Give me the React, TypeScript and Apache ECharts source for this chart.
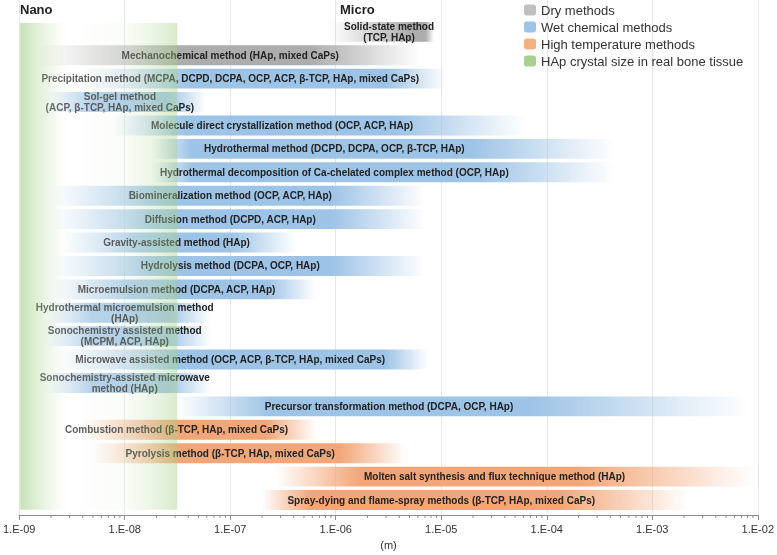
import React, { useEffect, useRef } from 'react';
import * as echarts from 'echarts';

const FONT = '"Liberation Sans", Arial, Helvetica, sans-serif';

// Legend groups
const groupNames = ['Dry methods', 'Wet chemical methods', 'High temperature methods'];
const groupColors = ['#adadad', '#9dc3e6', '#f3a678'];
const legendColors = ['#bfbfbf', '#9dc3e6', '#f4b183', '#a9d18e'];
const boneLabel = 'HAp crystal size in real bone tissue';

// Methods (one row each, top to bottom)
const methodNames = [
  'Solid-state method\n(TCP, HAp)',
  'Mechanochemical method (HAp, mixed CaPs)',
  'Precipitation method (MCPA, DCPD, DCPA, OCP, ACP, β-TCP, HAp, mixed CaPs)',
  'Sol-gel method\n(ACP, β-TCP, HAp, mixed CaPs)',
  'Molecule direct crystallization method (OCP, ACP, HAp)',
  'Hydrothermal method (DCPD, DCPA, OCP, β-TCP, HAp)',
  'Hydrothermal decomposition of Ca-chelated complex method (OCP, HAp)',
  'Biomineralization method (OCP, ACP, HAp)',
  'Diffusion method (DCPD, ACP, HAp)',
  'Gravity-assisted method (HAp)',
  'Hydrolysis method (DCPA, OCP, HAp)',
  'Microemulsion method (DCPA, ACP, HAp)',
  'Hydrothermal microemulsion method\n(HAp)',
  'Sonochemistry assisted method\n(MCPM, ACP, HAp)',
  'Microwave assisted method (OCP, ACP, β-TCP, HAp, mixed CaPs)',
  'Sonochemistry-assisted microwave\nmethod (HAp)',
  'Precursor transformation method (DCPA, OCP, HAp)',
  'Combustion method (β-TCP, HAp, mixed CaPs)',
  'Pyrolysis method (β-TCP, HAp, mixed CaPs)',
  'Molten salt synthesis and flux technique method (HAp)',
  'Spray-dying and flame-spray methods (β-TCP, HAp, mixed CaPs)',
];
const methodGroup = [0, 0, 1, 1, 1, 1, 1, 1, 1, 1, 1, 1, 1, 1, 1, 1, 1, 2, 2, 2, 2];

// Size ranges in metres: where the bar begins to appear, reaches full colour, starts to fade, vanishes
const fadeStart = [9.0e-7, 1.5e-9, 3.9e-9, 1.8e-9, 7.5e-9, 1.8e-8, 1.8e-8, 2e-9, 2e-9, 2.5e-9, 2e-9, 2e-9, 1.8e-9, 1.8e-9, 2.3e-9, 1.8e-9, 3.1e-8, 3.9e-9, 4.9e-9, 2.7e-7, 2e-7];
const fullStart = [5.1e-6, 2.8e-8, 4.3e-8, 4.9e-9, 3.8e-8, 4.3e-8, 4.3e-8, 1.8e-8, 1.8e-8, 1.45e-8, 1.8e-8, 1.16e-8, 4.9e-9, 4.9e-9, 2.8e-8, 4.9e-9, 2.4e-7, 2.5e-8, 3.1e-8, 1.7e-6, 5.8e-7];
const fullEnd = [7.1e-6, 5.8e-7, 3.0e-6, 2.5e-8, 3.7e-6, 1.9e-5, 2.2e-5, 9e-7, 9e-7, 1.0e-7, 9e-7, 2.2e-7, 2.5e-8, 2.5e-8, 2.9e-6, 2.5e-8, 6.9e-5, 2.2e-7, 1.1e-6, 2.0e-4, 1.3e-4];
const fadeEnd = [8.5e-6, 6.3e-6, 1.1e-5, 5.9e-8, 6.2e-5, 4.4e-4, 4.4e-4, 7.1e-6, 7.1e-6, 4.2e-7, 7.1e-6, 6.5e-7, 6.6e-8, 6.6e-8, 7.5e-6, 6.6e-8, 8.2e-3, 6.5e-7, 4.6e-6, 9.2e-3, 2.2e-3];
const labelAt = [3.2e-6, 1e-7, 1e-7, 9e-9, 3.1e-7, 9.7e-7, 9.7e-7, 1e-7, 1e-7, 3.1e-8, 1e-7, 3.1e-8, 1e-8, 1e-8, 1e-7, 1e-8, 3.2e-6, 3.1e-8, 1e-7, 3.2e-5, 1e-5];

// HAp crystal size range in real bone tissue (m) and its vertical span in row units
const boneRange = [1e-9, 3.15e-8];
const boneRowSpan = [-0.38, 20.42];

// Axis
const axisMin = 1e-9;
const axisMax = 1e-2;
const minorMantissas = [2, 3, 4, 5, 6, 7, 8, 9];
const decadeExponents = [-9, -8, -7, -6, -5, -4, -3];

function hexToRgba(hex: string, a: number) {
  const h = hex.replace('#', '');
  const r = parseInt(h.slice(0, 2), 16);
  const g = parseInt(h.slice(2, 4), 16);
  const b = parseInt(h.slice(4, 6), 16);
  return `rgba(${r},${g},${b},${a})`;
}

function makeBarSeries(g: number) {
  const rows = methodNames.map((_, i) => i).filter((i) => methodGroup[i] === g);
  return {
    type: 'custom',
    name: groupNames[g],
    coordinateSystem: 'cartesian2d',
    clip: false,
    z: 2,
    itemStyle: { color: legendColors[g] },
    encode: { x: [1, 2, 3, 4, 5], y: 0 },
    data: rows.map((r) => [r, fadeStart[r], fullStart[r], fullEnd[r], fadeEnd[r], labelAt[r], r]),
    renderItem: (params: any, api: any) => {
      const row = api.value(0);
      const idx = api.value(6);
      const p0 = api.coord([api.value(1), row]);
      const p1 = api.coord([api.value(2), row]);
      const p2 = api.coord([api.value(3), row]);
      const p3 = api.coord([api.value(4), row]);
      const pl = api.coord([api.value(5), row]);
      const ya = api.coord([api.value(1), row - 0.425])[1];
      const yb = api.coord([api.value(1), row + 0.425])[1];
      const top = Math.min(ya, yb);
      const h = Math.abs(yb - ya);
      const w = p3[0] - p0[0];
      const s1 = Math.max(0, Math.min(1, (p1[0] - p0[0]) / w));
      const s2 = Math.max(s1, Math.min(1, (p2[0] - p0[0]) / w));
      const c = groupColors[g];
      return {
        type: 'group',
        children: [
          {
            type: 'rect',
            shape: { x: p0[0], y: top, width: w, height: h },
            style: {
              fill: {
                type: 'linear', x: 0, y: 0, x2: 1, y2: 0,
                colorStops: [
                  { offset: 0, color: hexToRgba(c, 0) },
                  { offset: s1, color: hexToRgba(c, 1) },
                  { offset: s2, color: hexToRgba(c, 1) },
                  { offset: 1, color: hexToRgba(c, 0) },
                ],
              },
            },
          },
          {
            type: 'text',
            x: pl[0],
            y: pl[1],
            style: {
              text: methodNames[idx],
              font: `bold 10px ${FONT}`,
              fill: '#222222',
              align: 'center',
              verticalAlign: 'middle',
              lineHeight: 11,
            },
          },
        ],
      };
    },
  };
}

export default function App() {
  const ref = useRef<HTMLDivElement>(null);
  useEffect(() => {
    if (!ref.current) return;
    const chart = echarts.init(ref.current, undefined, { renderer: 'svg' });
    const option: any = {
      animation: false,
      textStyle: { fontFamily: FONT },
      grid: { left: 17, right: 18, top: 0, bottom: 37 },
      legend: {
        orient: 'vertical',
        left: 524,
        top: 3,
        padding: 0,
        itemWidth: 12,
        itemHeight: 11,
        itemGap: 3,
        icon: 'roundRect',
        selectedMode: false,
        textStyle: { fontSize: 13, color: '#333', fontFamily: FONT, lineHeight: 14 },
        data: [...groupNames, boneLabel],
      },
      xAxis: {
        type: 'log',
        logBase: 10,
        min: axisMin,
        max: axisMax,
        name: '(m)',
        nameLocation: 'middle',
        nameGap: 24,
        nameTextStyle: { fontSize: 11, color: '#333', fontFamily: FONT },
        axisLine: { show: true, onZero: false, lineStyle: { color: '#8c8c8c', width: 1 } },
        axisTick: { show: true, length: 5, lineStyle: { color: '#8c8c8c' } },
        axisLabel: {
          fontSize: 11,
          color: '#333',
          margin: 8,
          fontFamily: FONT,
          formatter: (v: number) => {
            const e = Math.round(Math.log10(v));
            return '1.E' + (e < 0 ? '-' : '+') + String(Math.abs(e)).padStart(2, '0');
          },
        },
        splitLine: { show: true, lineStyle: { color: '#e6e6e6', width: 1 } },
      },
      yAxis: {
        type: 'value',
        inverse: true,
        min: -1.36,
        max: 20.64,
        show: false,
      },
      graphic: [
        { type: 'text', left: 20, top: 3, style: { text: 'Nano', font: `bold 13px ${FONT}`, fill: '#222' } },
        { type: 'text', left: 340, top: 3, style: { text: 'Micro', font: `bold 13px ${FONT}`, fill: '#222' } },
      ],
      series: [
        makeBarSeries(0),
        makeBarSeries(1),
        makeBarSeries(2),
        {
          type: 'custom',
          name: boneLabel,
          coordinateSystem: 'cartesian2d',
          clip: false,
          z: 10,
          itemStyle: { color: legendColors[3] },
          encode: { x: [0, 1], y: [2, 3] },
          data: [[boneRange[0], boneRange[1], boneRowSpan[0], boneRowSpan[1]]],
          renderItem: (params: any, api: any) => {
            const a = api.coord([api.value(0), api.value(2)]);
            const b = api.coord([api.value(1), api.value(3)]);
            return {
              type: 'rect',
              shape: { x: a[0] + 1, y: Math.min(a[1], b[1]), width: b[0] - a[0] - 1, height: Math.abs(b[1] - a[1]) },
              style: {
                fill: {
                  type: 'linear', x: 0, y: 0, x2: 1, y2: 0,
                  colorStops: [
                    { offset: 0, color: 'rgba(150,200,120,0.55)' },
                    { offset: 0.3, color: 'rgba(255,255,255,0.28)' },
                    { offset: 0.65, color: 'rgba(240,248,234,0.26)' },
                    { offset: 1, color: 'rgba(165,208,135,0.42)' },
                  ],
                },
              },
            };
          },
        },
        {
          type: 'custom',
          name: 'minorTicks',
          coordinateSystem: 'cartesian2d',
          clip: false,
          z: 3,
          silent: true,
          encode: { x: 0, y: 1 },
          data: [[axisMin, 20.64]],
          renderItem: (params: any, api: any) => {
            const y0 = params.coordSys.y + params.coordSys.height;
            const children: any[] = [];
            decadeExponents.forEach((e) => {
              minorMantissas.forEach((m) => {
                const v = m * Math.pow(10, e);
                const x = api.coord([v, 0])[0];
                children.push({
                  type: 'line',
                  shape: { x1: x, y1: y0, x2: x, y2: y0 + 3 },
                  style: { stroke: '#8c8c8c', lineWidth: 1 },
                });
              });
            });
            return { type: 'group', children };
          },
        },
      ],
    };
    chart.setOption(option);
    return () => chart.dispose();
  }, []);
  return <div ref={ref} style={{ position: 'fixed', left: 0, top: 0, width: 777, height: 555 }} />;
}
